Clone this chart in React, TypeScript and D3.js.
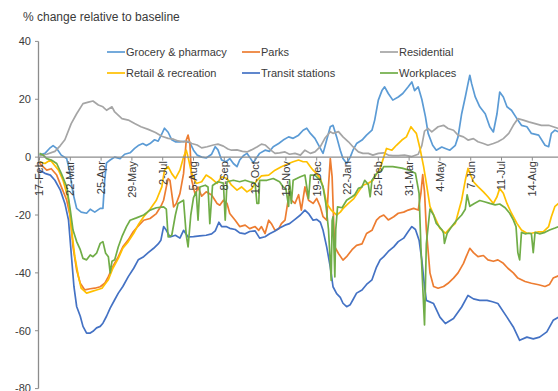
import React, { useEffect } from "react";
import * as d3 from "d3";

// x values are days since 17-Feb-2020, y values are % change relative to baseline
const tickLabels = ["17-Feb","22-Mar","25-Apr","29-May","2-Jul","5-Aug","8-Sep","12-Oct","15-Nov","19-Dec","22-Jan","25-Feb","31-Mar","4-May","7-Jun","11-Jul","14-Aug"];
const tickStepDays = 34;
const yTicks = [40, 20, 0, -20, -40, -60, -80];

const grocery: [number, number][] = [[0,0.7],[6,1.3],[11,3],[15,4],[19,3],[24,0.7],[30,-0.5],[33,-4.5],[37,-12.5],[41,-17.7],[46,-19],[52,-19.4],[56,-18],[61,-19],[67,-17.7],[70,-17.7],[72,-8],[74,-2],[78,-1],[83,0],[89,-0.5],[94,1],[100,1.5],[105,3],[109,4],[114,4.7],[118,4],[122,4.7],[127,6],[131,5.5],[135,8],[138,10],[142,8.6],[146,6],[150,5.3],[155,5.3],[160,5.5],[166,5],[170,2.4],[174,0.7],[179,0],[184,-0.3],[190,1],[194,3.6],[197,2.5],[201,-1],[206,-1.6],[210,-0.5],[214,-2.2],[218,-3.3],[221,-1],[225,0.5],[229,1.3],[232,0],[236,-2],[240,0],[243,1.3],[249,2.4],[254,2],[258,3.6],[264,4.7],[269,5.9],[275,7],[280,6.5],[286,7.6],[291,9.3],[295,10],[299,8.2],[304,6.5],[310,3],[313,1.3],[317,5.9],[321,10.5],[324,11],[328,7],[332,2.4],[335,-0.5],[339,-2.2],[343,0],[346,2.4],[350,4.7],[356,5.9],[361,7.6],[367,9.3],[370,12.8],[374,19.7],[378,23],[381,24.3],[385,22],[390,19.7],[396,20.8],[401,22],[407,24.3],[411,26],[414,23],[418,24.3],[422,20],[426,14],[429,8.2],[434,4.1],[438,2.4],[444,3.5],[448,3],[453,2.4],[459,4.1],[462,7],[466,15],[470,20.8],[473,25.4],[475,28.3],[477,25.4],[481,20.8],[486,17.4],[492,15],[497,10.5],[501,8.7],[505,15],[508,22.5],[512,20.8],[516,17.4],[521,16.2],[527,13.3],[532,11],[538,10.5],[543,8.2],[551,7.6],[558,4.1],[562,3.6],[565,8.2],[569,9.3],[573,8.7]];

const parks: [number, number][] = [[0,-2],[2,-2.8],[8,-4.5],[13,-4],[19,-6.2],[24,-10.2],[30,-14.8],[34,-20.6],[37,-31],[41,-39],[45,-43.6],[50,-45.9],[56,-45.5],[61,-45.3],[67,-44.8],[72,-43.6],[76,-41.3],[81,-37.8],[87,-34.4],[92,-31],[98,-28.6],[103,-26],[107,-24.5],[115,-21.8],[122,-21.2],[129,-19.5],[134,-17],[137,-14.9],[140,-10.3],[142,-7.4],[144,-8],[148,-17.2],[151,-16],[155,-12.6],[159,-5.7],[162,5.9],[164,7.6],[166,4.7],[168,-8],[172,-13.1],[175,-10.3],[179,-13.5],[184,-12],[190,-13.1],[196,-16],[199,-16.6],[203,-14.9],[207,-16],[210,-19.5],[216,-21.8],[221,-24],[227,-23.5],[232,-24.7],[238,-24],[242,-25.3],[245,-24],[249,-26.4],[253,-21.8],[256,-23],[260,-25.3],[264,-24.8],[267,-23],[271,-21.8],[275,-13.7],[276,-10.3],[278,-14.9],[282,-16],[286,-13],[289,-18.3],[293,-10.3],[297,-14.9],[302,-16],[306,-14.3],[310,-17.2],[313,-20.6],[317,-21.8],[319,-10],[321,-0.5],[323,-6.8],[325,-25],[326,-31],[330,-33.3],[335,-35.6],[339,-34.4],[345,-32],[350,-30.5],[356,-30],[361,-26.4],[367,-25.3],[372,-21.8],[376,-20.6],[380,-20],[385,-21.7],[391,-20.6],[396,-19.4],[402,-19],[407,-18.3],[413,-17.7],[418,-18.3],[421,-12.5],[423,-6],[425,-12],[427,-25],[431,-40],[435,-44.7],[440,-45.3],[446,-44.7],[451,-43.6],[457,-41.8],[462,-40],[468,-36.7],[471,-34.4],[475,-31.5],[479,-33],[484,-34.4],[490,-34],[495,-35.5],[501,-36],[506,-35.5],[512,-36.7],[517,-38.4],[523,-40],[528,-41.8],[536,-43],[543,-43.6],[551,-44.1],[558,-44.7],[563,-44],[567,-41.8],[573,-41]];

const residential: [number, number][] = [[0,0.5],[8,1],[17,2],[23,4],[28,6],[35,11.6],[41,15],[48,18.5],[54,19],[59,19.4],[65,18],[70,17.4],[74,16.2],[80,17.4],[83,15.6],[91,13.3],[98,12.8],[105,11.6],[112,10.5],[120,9.6],[128,8.5],[135,7.2],[142,6.5],[148,6.2],[153,5.6],[159,5.3],[164,5.5],[168,4.7],[174,4.2],[179,3.2],[185,3.6],[192,4.2],[197,4.5],[203,3.8],[208,2.8],[212,2.4],[218,2.5],[224,2],[229,1.8],[234,2.5],[240,3.5],[245,4.5],[249,4.2],[255,2.5],[260,1.3],[265,1.5],[271,1.8],[276,1],[282,1.3],[288,0.7],[293,2.4],[299,1.3],[304,1.8],[310,3.6],[315,6.5],[321,8.8],[324,8.2],[330,8.8],[335,7],[341,5.3],[346,3.6],[352,1.8],[357,1.3],[363,1.3],[368,0.7],[374,1.3],[380,1.5],[385,0.7],[390,0.5],[396,0.5],[403,0.7],[411,0.2],[418,1],[422,4],[425,9],[429,9.9],[433,8.7],[440,10.5],[446,11],[451,9.9],[457,9.3],[462,7.6],[468,7],[473,5.9],[479,6.4],[484,5.3],[490,4.7],[495,4.1],[501,4.7],[506,5.3],[512,6.4],[518,8.2],[523,11],[528,13.3],[534,12.8],[540,12.2],[547,11.6],[554,11],[562,11],[567,10.5],[573,9.9]];

const retail: [number, number][] = [[0,-1.6],[6,-2.2],[12,-1],[15,-2.2],[21,-4.5],[26,-8],[32,-14.8],[35,-24],[39,-34.4],[43,-41.3],[46,-45.3],[52,-47],[58,-46.4],[63,-45.9],[69,-45.3],[72,-44],[76,-42.4],[81,-38.4],[87,-35],[92,-31.5],[98,-29.2],[104,-26.3],[109,-23.4],[115,-20.6],[122,-18],[129,-14.9],[135,-10.3],[138,-4.5],[142,-3.3],[146,-5.7],[150,-7.4],[155,-4.5],[159,0],[162,2.4],[164,0],[168,-5.7],[173,-9.1],[179,-8.5],[184,-6.2],[190,-7.4],[196,-9.1],[201,-6.8],[207,-7.4],[212,-9.7],[218,-11.4],[223,-10.3],[229,-12],[234,-11],[240,-8],[245,-6.5],[253,-6.2],[260,-4.5],[267,-3.3],[275,-2.2],[280,-1.6],[286,-1],[291,-1.6],[295,-1.6],[299,-3.3],[302,-4.5],[306,-5.7],[310,-7.4],[313,-10.3],[317,-16],[322,-18.3],[328,-20],[332,-19],[335,-17.8],[341,-16],[347,-14.3],[352,-12],[357,-9.7],[363,-9],[368,-8],[372,-5.7],[376,-3.9],[380,0],[383,3],[389,2.4],[394,4.1],[400,5.9],[405,7],[410,10.5],[413,9.3],[416,8.2],[420,3],[424,-3.3],[427,-9],[431,-17],[436,-20.6],[442,-24.6],[448,-26.3],[453,-24.6],[459,-22.9],[462,-19.4],[466,-14.8],[470,-8],[473,-3.9],[475,-5.5],[479,-8.5],[484,-10.2],[490,-12],[495,-13.7],[501,-16],[505,-13.7],[508,-10.8],[512,-12.5],[516,-16],[521,-19.4],[527,-22.9],[532,-25.2],[538,-26.3],[543,-26.3],[551,-25.8],[556,-25.8],[562,-24],[565,-20.6],[569,-17],[573,-16]];

const transit: [number, number][] = [[0,-4.5],[6,-5.6],[12,-6.2],[17,-8],[23,-11.4],[28,-16],[32,-21.7],[35,-33.2],[38,-44.7],[41,-51.6],[45,-55],[48,-58.5],[52,-60.8],[56,-60.8],[59,-60.2],[63,-59],[67,-58.5],[70,-57.4],[74,-55],[78,-52.2],[83,-49.3],[87,-47],[92,-44.7],[98,-41.3],[104,-38.4],[109,-35.5],[115,-34.4],[120,-33],[126,-31.5],[131,-30],[134,-28.7],[137,-24],[140,-25.3],[144,-27.6],[150,-27],[155,-28],[159,-25.3],[164,-27.6],[170,-27.5],[177,-27.2],[184,-27],[190,-26.5],[194,-25.5],[198,-22.5],[201,-24],[206,-24],[210,-24.6],[216,-25],[221,-26.2],[227,-26.5],[232,-25.7],[238,-25.5],[243,-28],[249,-27.5],[254,-26.5],[260,-25.5],[265,-24.5],[271,-23.5],[276,-23],[282,-21.5],[288,-20],[293,-18.3],[297,-19.5],[302,-21.8],[306,-21.5],[310,-22.5],[313,-25.3],[317,-31],[321,-38],[324,-44.8],[328,-47.2],[332,-48.5],[335,-50.5],[339,-51.7],[343,-51],[346,-49.3],[350,-47],[356,-45.9],[361,-44],[367,-42.4],[372,-38],[376,-35.5],[380,-34.4],[385,-32.6],[391,-31],[396,-29.2],[402,-28],[407,-25.7],[411,-24],[415,-25],[419,-28.7],[422,-35.5],[425,-44.7],[427,-49.5],[435,-50.6],[442,-55.3],[448,-57.5],[457,-55.8],[466,-51.8],[473,-47.8],[479,-49],[486,-49.5],[494,-49.5],[500,-50],[506,-50.6],[516,-55.3],[523,-58.7],[530,-63.3],[538,-62.2],[545,-62.8],[552,-62.2],[560,-60.4],[567,-56.4],[573,-55.3]];

const workplaces: [number, number][] = [[0,1.3],[4,0.7],[8,-0.5],[13,-1],[19,-2.2],[24,-5.6],[30,-10.2],[34,-18.3],[37,-25.2],[41,-29.2],[45,-32],[48,-35],[52,-35.5],[56,-33.8],[59,-34.4],[63,-33.2],[67,-29.8],[70,-29.2],[73,-33.2],[76,-34.4],[78,-40],[80,-36],[83,-35.5],[87,-31],[91,-27.5],[96,-24],[100,-21.8],[107,-21],[115,-20],[122,-18.3],[129,-17.5],[137,-17.2],[140,-18],[142,-27.6],[146,-27],[150,-20],[153,-16],[159,-14.9],[162,-27],[164,-31],[167,-20],[170,-14],[173,-12],[175,-21.8],[177,-10.3],[183,-9.7],[186,-10.3],[188,-23],[191,-9.8],[197,-8.5],[203,-9],[205,-21.8],[207,-8.5],[214,-8],[221,-8.5],[227,-8],[232,-8.5],[238,-9],[240,-16],[242,-16],[243,-8],[251,-8],[258,-7.4],[265,-8.5],[269,-10.3],[272,-11],[275,-17],[276,-8],[278,-16],[280,-8],[288,-6.8],[293,-6.2],[297,-14.3],[299,-6.2],[304,-6.2],[310,-8],[313,-10.3],[316,-16],[319,-25],[322,-42.6],[323,-22],[324,-20.6],[326,-41.4],[327,-25],[329,-17.2],[334,-17.5],[339,-14.9],[345,-13.7],[348,-13],[352,-10.8],[356,-10.3],[359,-8],[363,-9.5],[365,-13.7],[367,-8],[372,-5.7],[378,-4.5],[380,-3.3],[390,-3.3],[400,-3.8],[408,-4.5],[415,-5.6],[419,-12.5],[421,-31],[425,-58],[427,-30],[431,-18],[435,-20],[438,-22.9],[444,-25],[446,-26.3],[447,-29.8],[450,-26.3],[455,-24],[460,-22],[466,-20],[470,-18],[472,-13],[475,-17],[480,-16],[486,-15],[492,-15.5],[497,-16],[503,-16.5],[508,-16.2],[514,-17.5],[519,-19.4],[523,-21.7],[526,-24],[528,-33],[530,-35.5],[532,-26],[536,-26.5],[540,-26.3],[543,-26.5],[545,-33],[547,-26],[552,-26.5],[558,-26],[563,-25.2],[569,-24.5],[573,-24]];

const seriesNames = ["Grocery & pharmacy", "Parks", "Residential", "Retail & recreation", "Transit stations", "Workplaces"];
const seriesColors = ["#5B9BD5", "#ED7D31", "#A5A5A5", "#FFC000", "#4472C4", "#70AD47"];
const seriesData = [grocery, parks, residential, retail, transit, workplaces];

const W = 558;
const H = 391;

export default function App() {
  useEffect(() => {
    document.body.style.margin = "0";
  }, []);

  const x = d3.scaleLinear().domain([0, 573]).range([39.5, 558.6]);
  const y = d3.scaleLinear().domain([-80, 40]).range([388.6, 41.4]);
  const line = d3.line<[number, number]>().x(d => x(d[0])).y(d => y(d[1]));

  const font = "'Liberation Sans', Arial, sans-serif";
  const textColor = "#3a3a3a";
  const axisColor = "#8c8c8c";

  const legendCols = [107, 242, 380];
  const legendRows = [52, 73];

  return (
    <svg width={W} height={H} style={{ display: "block", background: "#fff" }} fontFamily={font}>
      <text x={23} y={21} fontSize={12} fill={textColor}>% change relative to baseline</text>

      {/* y axis */}
      <line x1={38.5} x2={38.5} y1={y(40)} y2={y(-80)} stroke={axisColor} strokeWidth={1.3} />
      {yTicks.map(t => (
        <g key={t}>
          <line x1={35} x2={38.5} y1={y(t)} y2={y(t)} stroke={axisColor} strokeWidth={1} />
          <text x={31} y={y(t)} dy="0.35em" textAnchor="end" fontSize={11} fill={textColor}>{t}</text>
        </g>
      ))}

      {/* series */}
      <g>
        {seriesData.map((d, i) => (
          <path key={seriesNames[i]} d={line(d) || ""} fill="none" stroke={seriesColors[i]} strokeWidth={1.7} strokeLinejoin="round" />
        ))}
      </g>

      {/* x axis at zero */}
      <line x1={38.5} x2={W} y1={y(0)} y2={y(0)} stroke={axisColor} strokeWidth={1.3} />
      {tickLabels.map((lab, i) => {
        const tx = x(i * tickStepDays);
        return (
          <g key={lab}>
            <line x1={tx} x2={tx} y1={y(0)} y2={y(0) + 3.5} stroke={axisColor} strokeWidth={1} />
            <text
              transform={`translate(${tx},${y(0) + 4}) rotate(-90)`}
              dy="0.35em"
              textAnchor="end"
              fontSize={11}
              fill={textColor}
            >{lab}</text>
          </g>
        );
      })}

      {/* legend */}
      {seriesNames.map((name, i) => {
        const lx = legendCols[i % 3];
        const ly = legendRows[Math.floor(i / 3)];
        return (
          <g key={name}>
            <line x1={lx} x2={lx + 18} y1={ly} y2={ly} stroke={seriesColors[i]} strokeWidth={1.7} />
            <text x={lx + 19} y={ly} dy="0.35em" fontSize={11} fill={textColor}>{name}</text>
          </g>
        );
      })}
    </svg>
  );
}
